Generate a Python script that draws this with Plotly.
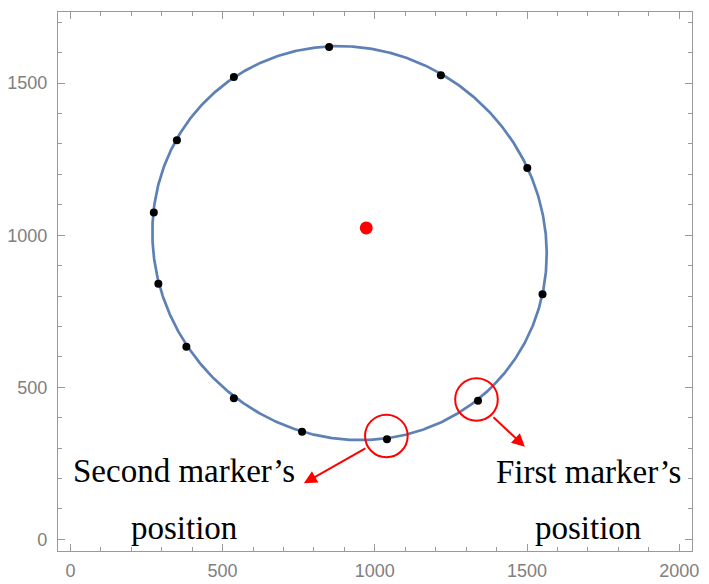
import numpy as np
import plotly.graph_objects as go

# ---- data ----
marker_x = [850, 537, 350, 274, 289, 381, 537, 761, 1040, 1339, 1551, 1501, 1217]
marker_y = [1619, 1520, 1312, 1075, 840, 633, 464, 354, 329, 456, 806, 1221, 1526]

center_x = [972]
center_y = [1024]

# fitted ellipse parameters (data units)
fit_cx = 917
fit_cy = 974
fit_semi_major = 665
fit_semi_minor = 630
fit_tilt_deg = -45

# highlighted markers (circles) : centre x, centre y, radius
highlight_x = [1334, 1038]
highlight_y = [460, 340]
highlight_r = [70, 70]

# arrows: tail -> head (data units)
arrow_tail_x = [1385, 974]
arrow_tail_y = [406, 302]
arrow_head_x = [1493, 767]
arrow_head_y = [304, 184]

label_x = [1701, 374]
label_line1 = ["First marker’s", "Second marker’s"]
label_line2 = ["position", "position"]
label_y1 = [223, 225]
label_y2 = [37, 38]

x_ticks = [0, 500, 1000, 1500, 2000]
y_ticks = [0, 500, 1000, 1500]
x_range = [-40.7, 2042]
y_range = [-38.4, 1734]

# ---- fitted curve ----
t = np.linspace(0, 2 * np.pi, 721)
phi = np.deg2rad(fit_tilt_deg)
ex = fit_cx + fit_semi_major * np.cos(t) * np.cos(phi) - fit_semi_minor * np.sin(t) * np.sin(phi)
ey = fit_cy + fit_semi_major * np.cos(t) * np.sin(phi) + fit_semi_minor * np.sin(t) * np.cos(phi)

fig = go.Figure()
fig.add_trace(go.Scatter(x=ex, y=ey, mode="lines",
                         line=dict(color="#5E81B5", width=2.7),
                         hoverinfo="skip"))
fig.add_trace(go.Scatter(x=marker_x, y=marker_y, mode="markers",
                         marker=dict(color="black", size=8)))
fig.add_trace(go.Scatter(x=center_x, y=center_y, mode="markers",
                         marker=dict(color="#FF0000", size=13)))

for hx, hy, hr in zip(highlight_x, highlight_y, highlight_r):
    fig.add_shape(type="circle", xref="x", yref="y",
                  x0=hx - hr, x1=hx + hr, y0=hy - hr, y1=hy + hr,
                  line=dict(color="#FF0000", width=2))

for tx, ty, hx, hy in zip(arrow_tail_x, arrow_tail_y, arrow_head_x, arrow_head_y):
    fig.add_annotation(x=hx, y=hy, ax=tx, ay=ty, xref="x", yref="y",
                       axref="x", ayref="y", text="", showarrow=True,
                       arrowhead=2, arrowsize=1.3, arrowwidth=2,
                       arrowcolor="#FF0000", standoff=0, startstandoff=0)

serif = "Liberation Serif, Times New Roman, serif"
for lx, t1, t2, y1, y2 in zip(label_x, label_line1, label_line2, label_y1, label_y2):
    fig.add_annotation(x=lx, y=y1, xref="x", yref="y", text=t1, showarrow=False,
                       font=dict(family=serif, size=33, color="black"),
                       xanchor="center", yanchor="middle")
    fig.add_annotation(x=lx, y=y2, xref="x", yref="y", text=t2, showarrow=False,
                       font=dict(family=serif, size=33, color="black"),
                       xanchor="center", yanchor="middle")

axis_gray = "#9a9a9a"
tick_font = dict(family="Liberation Sans, Arial, sans-serif", size=18, color="#808080")
common = dict(showline=True, linecolor=axis_gray, linewidth=1.3, mirror="ticks",
              ticks="inside", ticklen=7, tickwidth=1.2, tickcolor=axis_gray,
              showgrid=False, zeroline=False, tickfont=tick_font, automargin=False,
              minor=dict(ticks="inside", ticklen=4, dtick=100, tick0=0,
                         tickcolor=axis_gray, tickwidth=1.1, showgrid=False))

fig.update_xaxes(range=x_range, tickvals=x_ticks, ticklabelstandoff=3, **common)
fig.update_yaxes(range=y_range, tickvals=y_ticks, ticklabelstandoff=6, **common)

fig.update_layout(width=709, height=584, autosize=False, showlegend=False,
                  plot_bgcolor="white", paper_bgcolor="white",
                  margin=dict(l=58, r=17, t=12, b=33, pad=0))

fig.write_html("out.html", config={"displayModeBar": False},
               post_script="document.body.style.margin='0';"
                           "document.body.style.overflow='hidden';")
